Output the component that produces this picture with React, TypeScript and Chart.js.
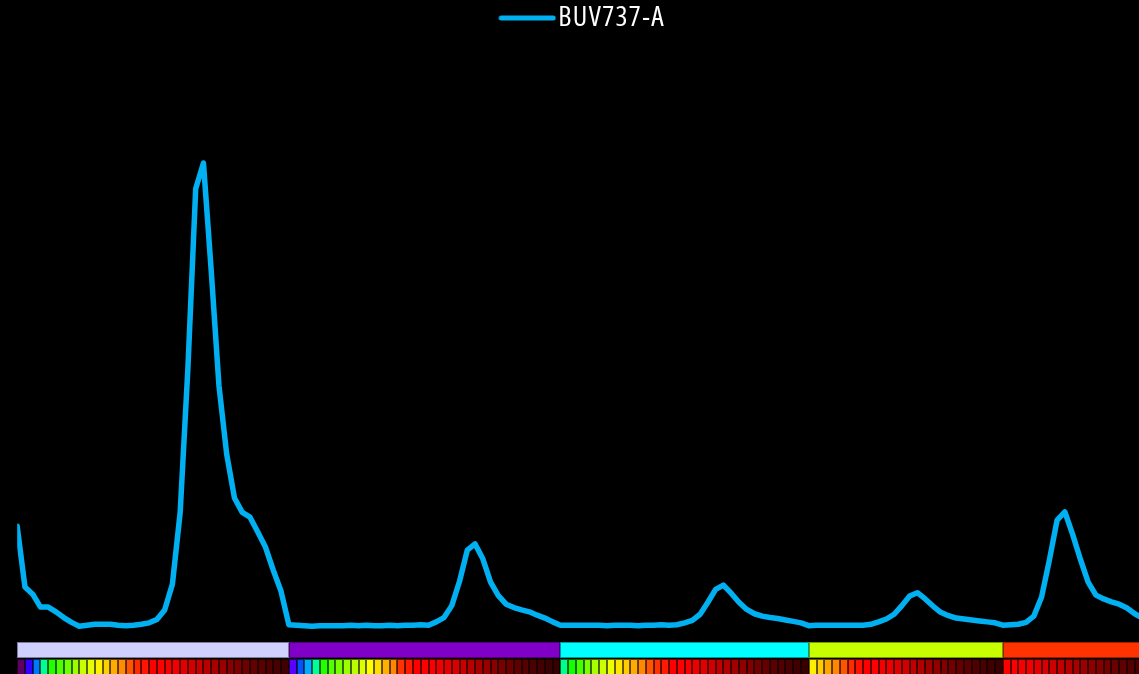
import React, { useEffect, useRef } from 'react';
import { Chart, registerables } from 'chart.js';

Chart.register(...registerables);

const SERIES_NAME = 'BUV737-A';
const LINE_COLOR = '#00b0f0';

// Normalised signal per detector channel (peak channel = 1)
const uvValues = [
  0.240, 0.113, 0.098, 0.071, 0.071, 0.061, 0.049, 0.039, 0.031, 0.033,
  0.035, 0.035, 0.035, 0.033, 0.032, 0.033, 0.035, 0.038, 0.045, 0.065,
  0.119, 0.269, 0.572, 0.946, 1.000, 0.775, 0.534, 0.390, 0.299, 0.269,
  0.259, 0.228, 0.196, 0.148, 0.104,
];
const violetValues = [
  0.034, 0.033, 0.032, 0.031, 0.032, 0.032, 0.032, 0.032, 0.033, 0.032,
  0.033, 0.032, 0.032, 0.033, 0.032, 0.033, 0.033, 0.034, 0.033, 0.040,
  0.049, 0.074, 0.125, 0.190, 0.203, 0.172, 0.123, 0.095, 0.077, 0.070,
  0.065, 0.061, 0.054, 0.048, 0.040,
];
const blueValues = [
  0.033, 0.033, 0.033, 0.033, 0.033, 0.033, 0.032, 0.033, 0.033, 0.033,
  0.032, 0.033, 0.033, 0.034, 0.033, 0.034, 0.038, 0.043, 0.056, 0.081,
  0.108, 0.117, 0.100, 0.081, 0.066, 0.057, 0.052, 0.049, 0.047, 0.044,
  0.041, 0.038,
];
const ygValues = [
  0.032, 0.033, 0.033, 0.033, 0.033, 0.033, 0.033, 0.033, 0.035, 0.040,
  0.046, 0.056, 0.074, 0.094, 0.101, 0.088, 0.073, 0.060, 0.053, 0.048,
  0.046, 0.044, 0.042, 0.040, 0.038,
];
const redValues = [
  0.033, 0.034, 0.035, 0.039, 0.052, 0.092, 0.169, 0.253, 0.270, 0.223,
  0.171, 0.123, 0.096, 0.088, 0.082, 0.077, 0.069, 0.057, 0.048, 0.040,
];

// Excitation lasers and their band colours
const laserNames = ['UV', 'Violet', 'Blue', 'YG', 'Red'];
const laserColors = ['#d0d0ff', '#8000c8', '#00ffff', '#c8ff00', '#ff3300'];

// Emission colour of every detector channel, per laser
const uvCells = [
  '#5c0060', '#3300ff', '#0077ff', '#00ff92', '#21ff00', '#4dff00', '#6eff00', '#9bff00', '#c8ff00', '#e5ff00',
  '#fff200', '#ffd000', '#ffab00', '#ff8c00', '#ff5500', '#ff2a00', '#ff1500', '#ff0000', '#ff0000', '#f90000',
  '#f00000', '#e00000', '#d40000', '#c80000', '#b80000', '#a80000', '#9a0000', '#8a0000', '#7c0000', '#6e0000',
  '#640000', '#5a0000', '#500000', '#480000', '#400000',
];
const violetCells = [
  '#5a00ff', '#0055ff', '#00aaff', '#00ff99', '#22ff00', '#55ff00', '#77ff00', '#99ff00', '#bbff00', '#ddff00',
  '#ffff00', '#ffdd00', '#ffb000', '#ff8800', '#ff3300', '#ff1a00', '#ff0000', '#ff0000', '#fa0000', '#f00000',
  '#e40000', '#d80000', '#c80000', '#b80000', '#a80000', '#980000', '#880000', '#7a0000', '#6c0000', '#600000',
  '#560000', '#4c0000', '#440000', '#3c0000', '#380000',
];
const blueCells = [
  '#00ff88', '#11ff00', '#44ff00', '#77ff00', '#a8ff00', '#ccff00', '#eeff00', '#ffe600', '#ffcc00', '#ffaa00',
  '#ff8800', '#ff5500', '#ff3300', '#ff1a00', '#ff0000', '#ff0000', '#f80000', '#ee0000', '#e00000', '#d00000',
  '#c00000', '#b00000', '#a00000', '#900000', '#800000', '#720000', '#660000', '#5a0000', '#500000', '#480000',
  '#400000', '#3a0000',
];
const ygCells = [
  '#ffee00', '#ffcc00', '#ffa500', '#ff8800', '#ff5500', '#ff2a00', '#ff1100', '#ff0000', '#ff0000', '#f50000',
  '#ea0000', '#dd0000', '#d00000', '#c00000', '#b00000', '#a00000', '#900000', '#800000', '#720000', '#660000',
  '#5a0000', '#500000', '#480000', '#400000', '#3a0000',
];
const redCells = [
  '#ff0000', '#ff0000', '#f80000', '#f00000', '#e40000', '#d80000', '#cc0000', '#c00000', '#b40000', '#a80000',
  '#9a0000', '#8e0000', '#820000', '#760000', '#6a0000', '#600000', '#560000', '#4e0000', '#460000', '#400000',
];

const laserCells = [uvCells, violetCells, blueCells, ygCells, redCells];
const signal = [...uvValues, ...violetValues, ...blueValues, ...ygValues, ...redValues];
const channelCount = laserCells.reduce((n, c) => n + c.length, 0);

const CANVAS_W = 1159;
const CANVAS_H = 677;
const BAND_H = 16;
const CELL_H = 18;
const LEGEND_LETTER_SPACING = '1.4px';

// Slightly opened tracking for the legend label (measured and drawn alike)
const legendTracking = {
  id: 'legendTracking',
  beforeLayout(chart: any) {
    chart.ctx.letterSpacing = LEGEND_LETTER_SPACING;
  },
  beforeDraw(chart: any) {
    chart.ctx.letterSpacing = LEGEND_LETTER_SPACING;
  },
};

// Laser bands and detector cells underneath the plot, placed on the x scale
const detectorStrip = {
  id: 'detectorStrip',
  afterDraw(chart: any) {
    const { ctx, chartArea } = chart;
    const xs = chart.scales.x;
    const bandTop = Math.round(chartArea.bottom) + 1;
    const cellTop = bandTop + BAND_H + 1;
    ctx.save();
    ctx.lineWidth = 1;
    let start = 0;
    laserNames.forEach((_, li) => {
      const cells = laserCells[li];
      const x0 = Math.round(xs.getPixelForValue(start));
      const x1 = Math.round(xs.getPixelForValue(start + cells.length));
      ctx.fillStyle = laserColors[li];
      ctx.fillRect(x0, bandTop, x1 - x0, BAND_H);
      ctx.strokeStyle = 'rgba(0,0,0,0.4)';
      ctx.strokeRect(x0 + 0.5, bandTop + 0.5, x1 - x0 - 1, BAND_H - 1);
      cells.forEach((color, k) => {
        const c0 = Math.round(xs.getPixelForValue(start + k));
        const c1 = Math.round(xs.getPixelForValue(start + k + 1));
        ctx.fillStyle = color;
        ctx.fillRect(c0, cellTop, c1 - c0, CELL_H);
        ctx.strokeStyle = 'rgba(0,0,0,0.6)';
        ctx.strokeRect(c0 + 0.5, cellTop + 0.5, c1 - c0 - 1, CELL_H - 1);
      });
      start += cells.length;
    });
    ctx.restore();
  },
};

export default function App() {
  const canvasRef = useRef<HTMLCanvasElement | null>(null);

  useEffect(() => {
    document.body.style.margin = '0';
    document.body.style.background = '#000';
    document.documentElement.style.background = '#000';

    // legend swatch: a short rounded stroke in the series colour
    const swatch = document.createElement('canvas');
    swatch.width = 58;
    swatch.height = 8;
    const sctx = swatch.getContext('2d')!;
    sctx.strokeStyle = LINE_COLOR;
    sctx.lineWidth = 5;
    sctx.lineCap = 'round';
    sctx.beginPath();
    sctx.moveTo(3, 4);
    sctx.lineTo(55, 4);
    sctx.stroke();

    const chart = new Chart(canvasRef.current!, {
      type: 'line',
      data: {
        datasets: [
          {
            label: SERIES_NAME,
            data: signal.map((y, i) => ({ x: i, y })),
            borderColor: LINE_COLOR,
            backgroundColor: LINE_COLOR,
            borderWidth: 5.5,
            pointRadius: 0,
            tension: 0,
            fill: false,
            borderJoinStyle: 'round',
            borderCapStyle: 'round',
          },
        ],
      },
      options: {
        responsive: false,
        animation: false,
        layout: { padding: { left: 17.2, right: 1, top: 0, bottom: CANVAS_H - 641 } },
        scales: {
          x: { type: 'linear', min: 0, max: channelCount, display: false },
          y: { min: 0, max: 1.253, display: false },
        },
        plugins: {
          legend: {
            labels: {
              color: '#ffffff',
              font: {
                family: "'Open Sans', sans-serif",
                size: 28,
                weight: '400 semi-condensed',
              },
              padding: 4,
              usePointStyle: true,
              pointStyle: swatch,
              pointStyleWidth: 34,
            },
          },
          tooltip: { enabled: false },
        },
      },
      plugins: [legendTracking, detectorStrip],
    } as any);

    return () => chart.destroy();
  }, []);

  return (
    <div style={{ width: 1139, height: 674, overflow: 'hidden', background: '#000' }}>
      <canvas
        ref={canvasRef}
        width={CANVAS_W}
        height={CANVAS_H}
        style={{ display: 'block', width: CANVAS_W, height: CANVAS_H }}
      />
    </div>
  );
}
